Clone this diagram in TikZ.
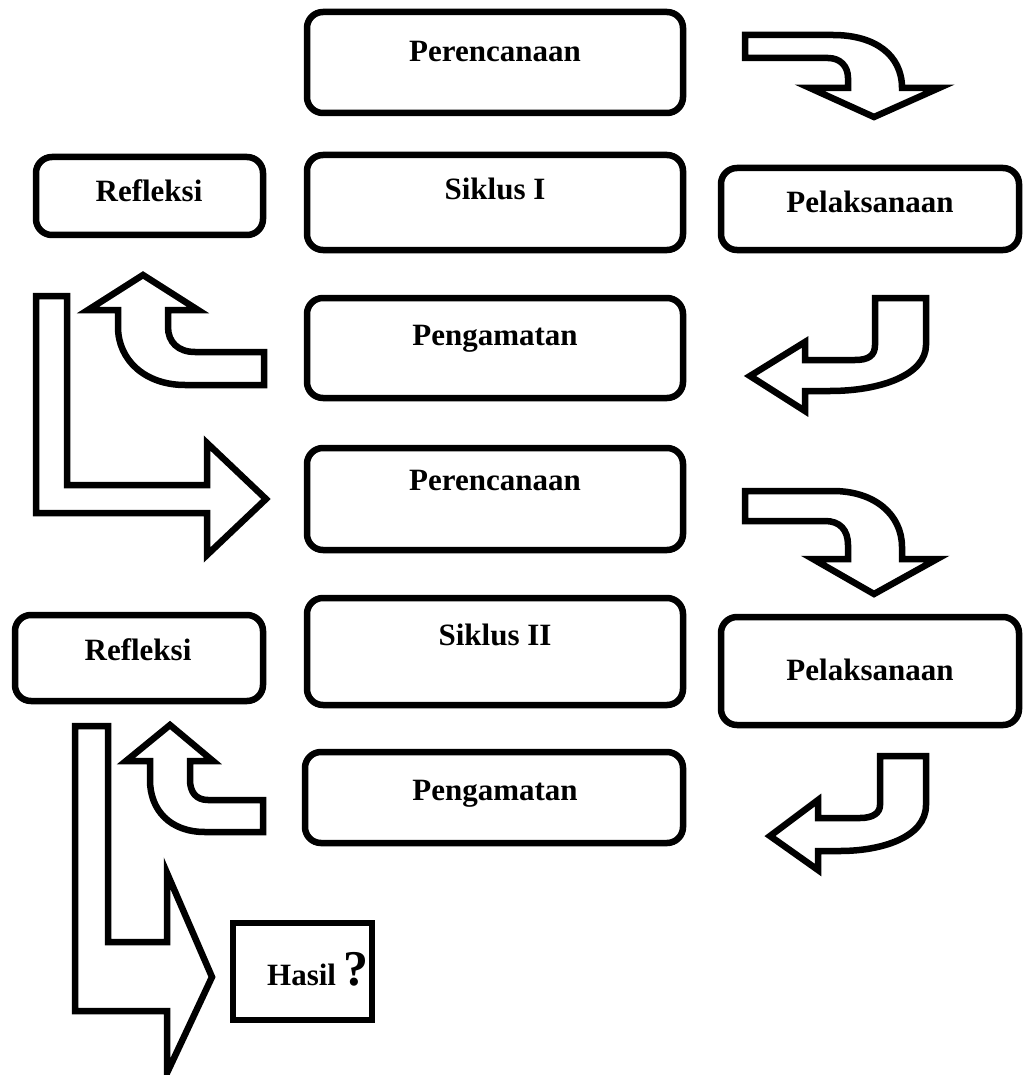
\documentclass[tikz,border=0pt]{standalone}
\usepackage{fontspec}
\setmainfont{Liberation Serif}
\begin{document}
\begin{tikzpicture}[x=1pt, y=-1pt,
    box/.style={draw, line width=6.5pt, rounded corners=16pt, inner sep=0pt},
    sqbox/.style={draw, line width=6.5pt, inner sep=0pt},
    lbl/.style={anchor=base, inner sep=0pt, font=\fontsize{31}{31}\selectfont\bfseries},
    blockarrow/.style={draw, line width=6.5pt, line join=miter, fill=white}]
    \useasboundingbox (0,0) rectangle (1023,1075);

    % kotak siklus I
    \node[box, minimum width=376pt, minimum height=101pt] (plan1) at (495,62.5) {};
    \node[box, minimum width=227pt, minimum height=78pt] (refl1) at (149.5,196) {};
    \node[box, minimum width=376pt, minimum height=95pt] (sik1) at (495,202.5) {};
    \node[box, minimum width=298pt, minimum height=82pt] (pel1) at (870,209) {};
    \node[box, minimum width=376pt, minimum height=100pt] (obs1) at (495,348) {};

    % kotak siklus II
    \node[box, minimum width=376pt, minimum height=102pt] (plan2) at (495,499) {};
    \node[box, minimum width=248pt, minimum height=86pt] (refl2) at (139,658) {};
    \node[box, minimum width=376pt, minimum height=107pt] (sik2) at (495,651.5) {};
    \node[box, minimum width=298pt, minimum height=108pt] (pel2) at (870,671) {};
    \node[box, minimum width=378pt, minimum height=91pt] (obs2) at (494,797.5) {};
    \node[sqbox, minimum width=139pt, minimum height=97pt] (hasil) at (302.5,971.5) {};

    \node[lbl] (plan1-t) at (495,62) {Perencanaan};
    \node[lbl] (refl1-t) at (149,202) {Refleksi};
    \node[lbl] (sik1-t) at (495,200) {Siklus I};
    \node[lbl] (pel1-t) at (870,213) {Pelaksanaan};
    \node[lbl] (obs1-t) at (495,345) {Pengamatan};
    \node[lbl] (plan2-t) at (495,490) {Perencanaan};
    \node[lbl] (refl2-t) at (138,660) {Refleksi};
    \node[lbl] (sik2-t) at (495,645) {Siklus II};
    \node[lbl] (pel2-t) at (870,680) {Pelaksanaan};
    \node[lbl] (obs2-t) at (495,800) {Pengamatan};
    \node[lbl] (hasil-t) at (318,985) {Hasil {\fontsize{50}{50}\selectfont ?}};

    % panah blok
    \draw[blockarrow] (745,35) -- (833,35) .. controls (875,35) and (902,55) .. (902,88)
        -- (939,88) -- (874,117) -- (810,88) -- (848,88) -- (848,78)
        .. controls (848,66) and (840,58) .. (828,58) -- (745,58) -- cycle;
    \draw[blockarrow] (875,298) -- (926,298) -- (926,345) .. controls (926,375) and (880,391) .. (830,391)
        -- (805,391) -- (805,411) -- (750,376) -- (805,342) -- (805,360) -- (855,360)
        .. controls (868,360) and (875,356) .. (875,345) -- cycle;
    \draw[blockarrow] (264,352) -- (195,352) .. controls (178,352) and (168,342) .. (168,327)
        -- (168,310) -- (198,310) -- (143,275) -- (88,310) -- (118,310) -- (118,327)
        .. controls (118,360) and (145,385) .. (185,385) -- (264,385) -- cycle;
    \draw[blockarrow] (36,296) -- (67,296) -- (67,485) -- (207,485) -- (207,443) -- (266,499)
        -- (207,555) -- (207,513) -- (36,513) -- cycle;

    \draw[blockarrow] (745,491) -- (833,491) .. controls (875,491) and (902,515) .. (902,547)
        -- (902,559) -- (937,559) -- (874,594) -- (813,559) -- (848,559) -- (848,545)
        .. controls (848,530) and (840,521) .. (825,521) -- (745,521) -- cycle;
    \draw[blockarrow] (880,756) -- (926,756) -- (926,805) .. controls (926,838) and (880,851) .. (840,851)
        -- (818,851) -- (818,870) -- (770,836) -- (818,800) -- (818,818) -- (860,818)
        .. controls (873,818) and (880,813) .. (880,805) -- cycle;
    \draw[blockarrow] (263,800) -- (208,800) .. controls (196,800) and (190,792) .. (190,780)
        -- (190,761) -- (213,761) -- (170,725) -- (126,761) -- (150,761) -- (150,780)
        .. controls (150,810) and (170,832) .. (205,832) -- (263,832) -- cycle;
    \draw[blockarrow] (75,726) -- (108,726) -- (108,942) -- (167,942) -- (167,873) -- (212,977)
        -- (167,1073) -- (167,1011) -- (75,1011) -- cycle;
\end{tikzpicture}
\end{document}
